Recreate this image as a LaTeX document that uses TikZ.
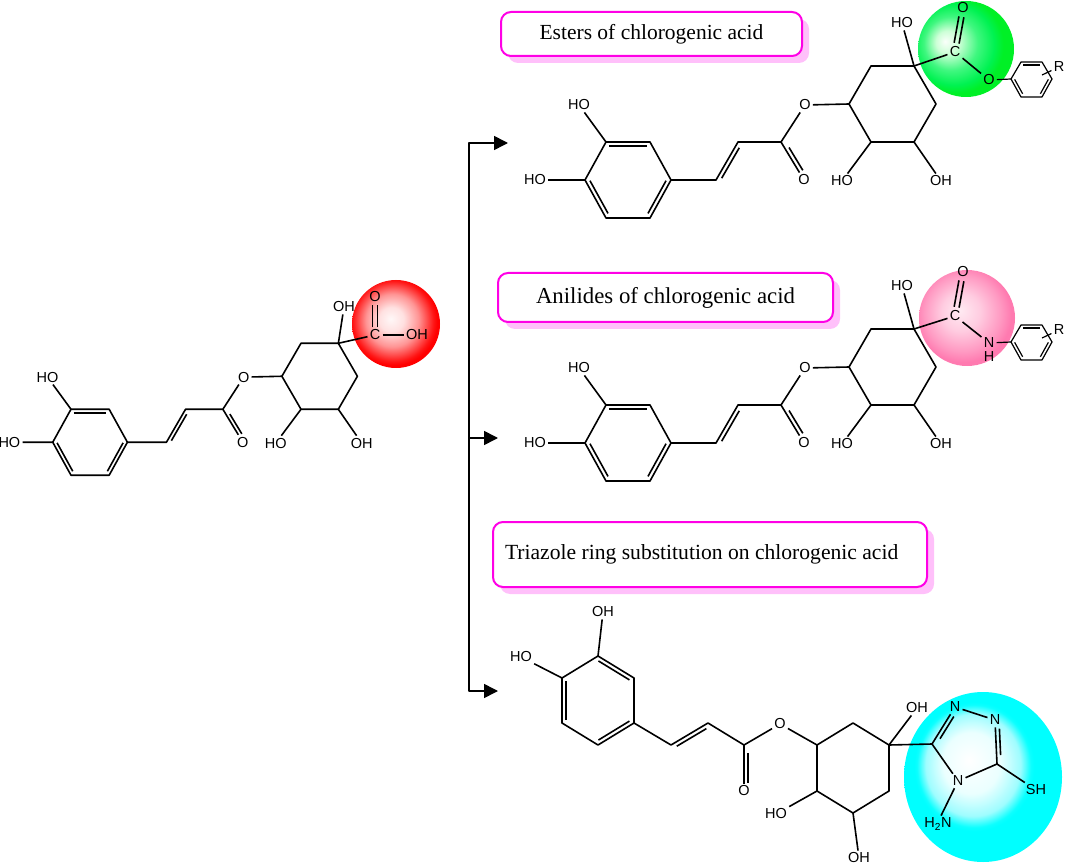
\documentclass[tikz,border=0pt]{standalone}
\usepackage{fontspec}
\setmainfont{Liberation Serif}
\setsansfont{Liberation Sans}
\usetikzlibrary{positioning, shadows, calc, arrows.meta}

\definecolor{boxline}{HTML}{FF00E6}
\definecolor{boxshadow}{HTML}{FFC0FA}
\pgfdeclareradialshading{ballred}{\pgfpoint{-3bp}{3bp}}{rgb(0bp)=(1,.97,.97); rgb(7bp)=(1,.88,.88); rgb(15bp)=(1,.58,.58); rgb(23bp)=(1,.08,.08); rgb(25bp)=(1,0,0); rgb(50bp)=(1,0,0)}
\pgfdeclareradialshading{ballgreen}{\pgfpoint{-11bp}{4bp}}{rgb(0bp)=(.98,1,.98); rgb(6bp)=(.8,1,.84); rgb(14bp)=(.25,.97,.5); rgb(21bp)=(0,.95,.32); rgb(25bp)=(0,.94,.15); rgb(50bp)=(0,.94,.15)}
\pgfdeclareradialshading{ballpink}{\pgfpoint{-4bp}{4bp}}{rgb(0bp)=(1,.92,.95); rgb(10bp)=(1,.8,.88); rgb(20bp)=(1,.6,.76); rgb(25bp)=(1,.48,.69); rgb(50bp)=(1,.48,.69)}
\pgfdeclareradialshading{ballcyan}{\pgfpoint{-4.5bp}{5bp}}{rgb(0bp)=(1,1,1); rgb(9bp)=(.92,1,1); rgb(15bp)=(.62,.99,1); rgb(18bp)=(.05,1,1); rgb(19bp)=(0,1,1); rgb(50bp)=(0,1,1)}

% second line of a double bond: from, to, side, trim
\newcommand{\dbl}[4]{\draw ($(#1)!#4!(#2)!#3!90:(#2)$) -- ($(#2)!#4!(#1)!#3!-90:(#1)$);}

% caffeoyl part and cyclohexane, same in three molecules
\newcommand{\cgacore}{
   \coordinate (a1) at (606,142);
   \coordinate (a2) at (650,142);
   \coordinate (a3) at (671,180);
   \coordinate (a4) at (650,218);
   \coordinate (a5) at (606,218);
   \coordinate (a6) at (585,180);
   \coordinate (c1) at (716,180);
   \coordinate (c2) at (738,142);
   \coordinate (c3) at (781,142);
   \coordinate (r1) at (849,104);
   \coordinate (r2) at (871,66);
   \coordinate (r3) at (914,66);
   \coordinate (r4) at (936,104);
   \coordinate (r5) at (914,142);
   \coordinate (r6) at (871,142);
   \node[atom] (ho1) at (579,105) {HO};
   \node[atom] (ho2) at (535,180) {HO};
   \node[atom] (ester) at (805,105) {O};
   \node[atom] (keto) at (804,180) {O};
   \node[atom] (ho3) at (842,181) {HO};
   \node[atom] (ho4) at (941,181) {OH};
   \draw (a1) -- (a2) -- (a3) -- (a4) -- (a5) -- (a6) -- cycle;
   \dbl{a1}{a2}{-4pt}{.07}
   \dbl{a3}{a4}{-4pt}{.07}
   \dbl{a5}{a6}{-4pt}{.07}
   \draw (a1) -- (ho1);
   \draw (a6) -- (ho2);
   \draw (a3) -- (c1) -- (c2) -- (c3) -- (ester) -- (r1);
   \dbl{c1}{c2}{-4pt}{.1}
   \draw (c3) -- (keto);
   \dbl{c3}{keto}{4pt}{.2}
   \draw (r1) -- (r2) -- (r3) -- (r4) -- (r5) -- (r6) -- cycle;
   \draw (r6) -- (ho3);
   \draw (r5) -- (ho4);
}

% substituted benzene at the right end
\newcommand{\arylring}{
   \coordinate (p1) at (1011,79);
   \coordinate (p2) at (1021,62);
   \coordinate (p3) at (1042,62);
   \coordinate (p4) at (1052,79);
   \coordinate (p5) at (1042,97);
   \coordinate (p6) at (1021,97);
   \coordinate (pr) at (1042,75);
   \node[atom] (rgroup) at (1059,67) {R};
   \draw[thin bond] (p1) -- (p2) -- (p3) -- (p4) -- (p5) -- (p6) -- cycle;
   \draw[thin bond] (pr) -- (rgroup);
   \begin{scope}[thin bond]
   \dbl{p2}{p3}{-3pt}{.1}
   \dbl{p4}{p5}{-3pt}{.1}
   \dbl{p6}{p1}{-3pt}{.1}
   \end{scope}
}

\begin{document}
\begin{tikzpicture}[x=1pt,y=-1pt,line width=1.6pt,line join=round,font=\sffamily\fontsize{14.5}{14.5}\selectfont]
\tikzstyle{atom}=[inner sep=1.5pt]
\tikzstyle{thin bond}=[line width=1.2pt]
\tikzstyle{labelbox}=[%
draw=boxline, line width=2pt, fill=white,
rounded corners=10pt,
font=\rmfamily\fontsize{21.5}{21.5}\selectfont,
drop shadow={shadow xshift=7pt,shadow yshift=-7pt,fill=boxshadow,opacity=1}
]
\tikzstyle{branch}=[line width=1.6pt,-{Triangle[length=14pt,width=14pt]}]
   \useasboundingbox (0,0) rectangle (1065,866);

   \shade[shading=ballred] (396,324) circle[radius=44pt];
   \shade[shading=ballgreen] (966,49) circle[radius=48pt];
   \shade[shading=ballpink] (967,318) circle[radius=48pt];
   \shade[shading=ballcyan] (983,777) ellipse[x radius=79pt,y radius=85pt];

   % parent acid
   \begin{scope}[name prefix=acid-,shift={(-455,286)},scale=.868]
   \cgacore
   \end{scope}
   \node[atom] (acid-oh) at (344,307) {OH};
   \node[atom] (acid-c) at (375,335) {C};
   \node[atom] (acid-o) at (375,297) {O};
   \node[atom] (acid-oh2) at (417,335) {OH};
   \draw (acid-r3) -- (acid-oh);
   \draw (acid-r3) -- (acid-c);
   \draw (acid-c) -- (acid-oh2);
   \dbl{acid-c}{acid-o}{2.5pt}{.2}
   \dbl{acid-c}{acid-o}{-2.5pt}{.2}

   % ester
   \begin{scope}[name prefix=est-]
   \cgacore
   \arylring
   \node[atom] (oh) at (902,23) {HO};
   \node[atom] (cx) at (955,52) {C};
   \node[atom] (ox) at (963,8) {O};
   \node[atom] (link) at (989,80) {O};
   \draw (r3) -- (oh);
   \draw (r3) -- (cx);
   \dbl{cx}{ox}{2.5pt}{.2}
   \dbl{cx}{ox}{-2.5pt}{.2}
   \draw (cx) -- (link);
   \draw[thin bond] (link) -- (p1);
   \end{scope}

   % anilide
   \begin{scope}[name prefix=ani-,shift={(0,263)}]
   \cgacore
   \arylring
   \node[atom] (oh) at (902,23) {HO};
   \node[atom] (cx) at (955,53) {C};
   \node[atom] (ox) at (963,9) {O};
   \node[atom] (link) at (989,80) {N};
   \node[atom] (hn) at (989,94) {H};
   \draw (r3) -- (oh);
   \draw (r3) -- (cx);
   \dbl{cx}{ox}{2.5pt}{.2}
   \dbl{cx}{ox}{-2.5pt}{.2}
   \draw (cx) -- (link);
   \draw[thin bond] (link) -- (p1);
   \end{scope}

   % triazole
   \coordinate (a1) at (598,656);
   \coordinate (a2) at (634,678);
   \coordinate (a3) at (634,723);
   \coordinate (a4) at (598,745);
   \coordinate (a5) at (562,723);
   \coordinate (a6) at (562,678);
   \coordinate (c1) at (671,745);
   \coordinate (c2) at (708,723);
   \coordinate (c3) at (744,745);
   \coordinate (r1) at (817,745);
   \coordinate (r2) at (853,723);
   \coordinate (r3) at (889,745);
   \coordinate (r4) at (889,791);
   \coordinate (r5) at (853,813);
   \coordinate (r6) at (817,791);
   \coordinate (t1) at (932,744);
   \coordinate (t4) at (997,764);
   \node[atom] (ho1) at (603,612) {OH};
   \node[atom] (ho2) at (521,657) {HO};
   \node[atom] (ester) at (780,724) {O};
   \node[atom] (keto) at (744,791) {O};
   \node[atom] (ho3) at (776,814) {HO};
   \node[atom] (ho4) at (859,858) {OH};
   \node[atom] (ho5) at (917,708) {OH};
   \node[atom] (t2) at (955,707) {N};
   \node[atom] (t3) at (995,720) {N};
   \node[atom] (t5) at (958,781) {N};
   \node[atom] (sh) at (1036,790) {SH};
   \node[atom] (nh) at (938,824) {H\textsubscript{2}N};
   \draw (a1) -- (a2) -- (a3) -- (a4) -- (a5) -- (a6) -- cycle;
   \dbl{a1}{a2}{-4pt}{.07}
   \dbl{a3}{a4}{-4pt}{.07}
   \dbl{a5}{a6}{-4pt}{.07}
   \draw (a1) -- (ho1);
   \draw (a6) -- (ho2);
   \draw (a3) -- (c1) -- (c2) -- (c3) -- (ester) -- (r1);
   \dbl{c1}{c2}{-4pt}{.1}
   \draw (c3) -- (keto);
   \dbl{c3}{keto}{4pt}{.18}
   \draw (r1) -- (r2) -- (r3) -- (r4) -- (r5) -- (r6) -- cycle;
   \draw (r6) -- (ho3);
   \draw (r5) -- (ho4);
   \draw (r3) -- (ho5);
   \draw (r3) -- (t1);
   \draw (t1) -- (t2);
   \dbl{t1}{t2}{-4pt}{.2}
   \draw (t2) -- (t3);
   \draw (t3) -- (t4);
   \dbl{t3}{t4}{4pt}{.2}
   \draw (t4) -- (t5) -- (t1);
   \draw (t4) -- (sh);
   \draw (t5) -- (nh.70);

   % labels
   \node[labelbox, minimum width=301pt, minimum height=44pt] (esterbox) at (651.5,34) {Esters of chlorogenic acid};
   \node[labelbox, minimum width=335pt, minimum height=49pt, font=\rmfamily\fontsize{22.8}{22.8}\selectfont] (anilidebox) at (665.5,297.5) {Anilides of chlorogenic acid};
   \node[labelbox, text width=410pt, inner xsep=12pt, align=flush left, minimum height=65pt, font=\rmfamily\fontsize{21.6}{21.6}\selectfont] (triazolebox) at (710,554.5) {Triazole ring substitution on chlorogenic acid};

   % reaction arrows
   \coordinate (fork) at (469,438);
   \coordinate (tipa) at (508,143);
   \coordinate (tipb) at (498,438);
   \coordinate (tipc) at (498,691);
   \draw[branch] (fork) |- (tipa);
   \draw[branch] (fork) -- (tipb);
   \draw[branch] (fork) |- (tipc);
\end{tikzpicture}
\end{document}
